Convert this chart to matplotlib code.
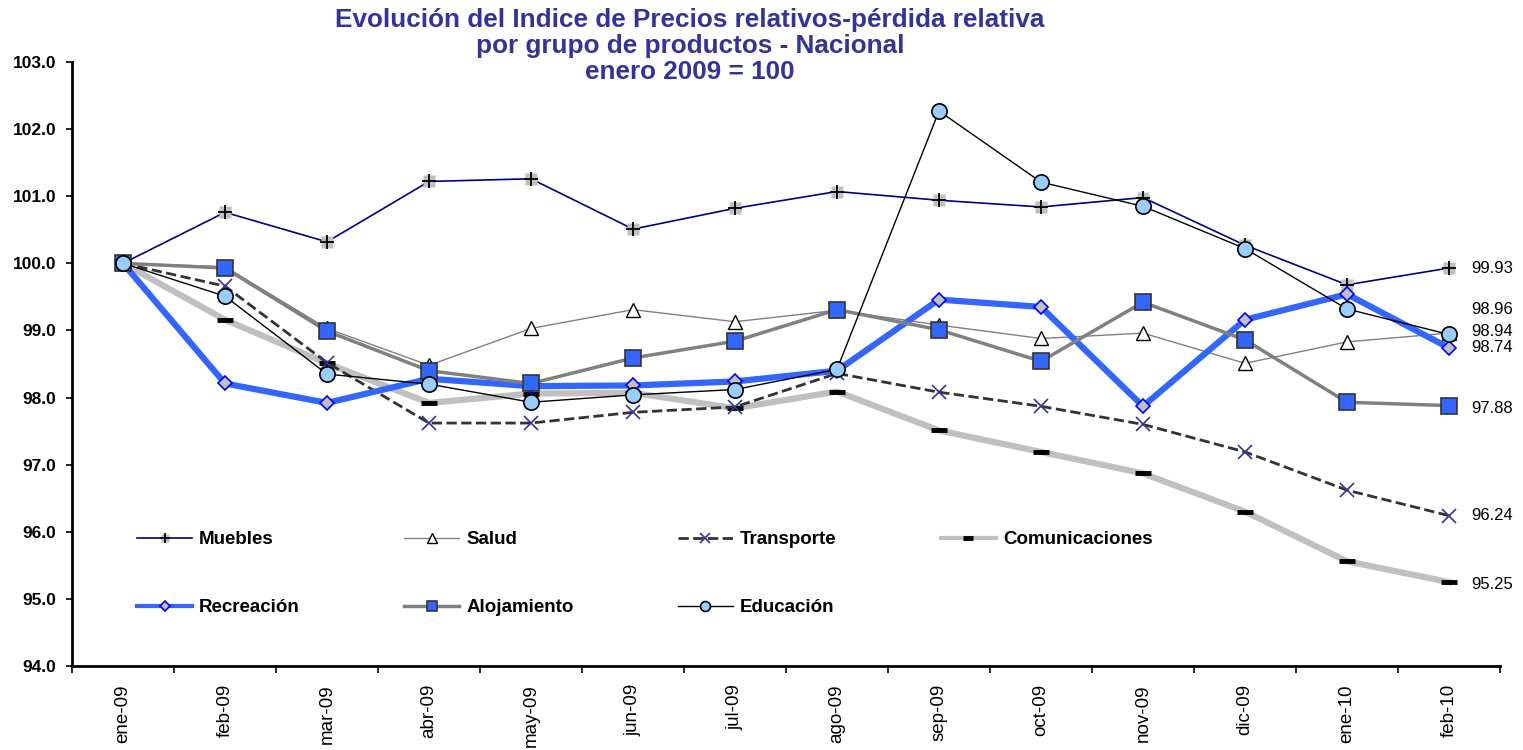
import matplotlib.pyplot as plt
from matplotlib.legend_handler import HandlerTuple

plt.rcParams['font.family'] = ['Liberation Sans', 'DejaVu Sans']

meses = ['ene-09', 'feb-09', 'mar-09', 'abr-09', 'may-09', 'jun-09', 'jul-09',
         'ago-09', 'sep-09', 'oct-09', 'nov-09', 'dic-09', 'ene-10', 'feb-10']

muebles = [100.00, 100.76, 100.32, 101.22, 101.26, 100.51, 100.82,
           101.07, 100.94, 100.84, 100.98, 100.27, 99.68, 99.93]
salud = [100.00, 99.95, 99.03, 98.48, 99.03, 99.31, 99.13,
         99.30, 99.08, 98.88, 98.96, 98.51, 98.83, 98.96]
transporte = [100.00, 99.66, 98.52, 97.62, 97.62, 97.78, 97.86,
              98.36, 98.08, 97.87, 97.60, 97.19, 96.62, 96.24]
comunicaciones = [100.00, 99.16, 98.51, 97.92, 98.06, 98.07, 97.84,
                  98.09, 97.51, 97.19, 96.87, 96.30, 95.56, 95.25]
recreacion = [100.00, 98.21, 97.92, 98.28, 98.17, 98.18, 98.24,
              98.40, 99.46, 99.35, 97.87, 99.16, 99.54, 98.74]
alojamiento = [100.00, 99.93, 98.99, 98.40, 98.21, 98.59, 98.84,
               99.31, 99.01, 98.54, 99.42, 98.86, 97.93, 97.88]
educacion = [100.00, 99.51, 98.35, 98.20, 97.93, 98.04, 98.12,
             98.42, 102.27, 101.21, 100.85, 100.22, 99.32, 98.94]

x = list(range(len(meses)))

fig = plt.figure(figsize=(15.23, 7.5), dpi=100)
ax = fig.add_axes([72 / 1523, 1 - 666 / 750, (1500 - 72) / 1523, (666 - 62) / 750])

# Muebles: gray square behind a black plus
m_sq, = ax.plot(x, muebles, color='#000080', lw=1.2, marker='s', ms=9,
                mfc='#C0C0C0', mec='none', zorder=3)
m_pl, = ax.plot(x, muebles, ls='none', marker='+', ms=10, mew=1.3,
                color='black', zorder=3.1)
sal, = ax.plot(x, salud, color='#808080', lw=1, marker='^', ms=10,
               mfc='white', mec='black', mew=1, zorder=3.2)
tra, = ax.plot(x, transporte, color='#333333', lw=2, ls='--', marker='x', ms=10,
               mec='#333399', mew=1.2, zorder=3.4)
com, = ax.plot(x, comunicaciones, color='#C0C0C0', lw=4.5, marker='_', ms=11,
               mec='black', mew=3.5, zorder=3.3)
rec, = ax.plot(x, recreacion, color='#3366FF', lw=4.5, marker='D', ms=7.5,
               mfc='#C0C0C0', mec='#0000FF', mew=1.2, zorder=3.5)
alo, = ax.plot(x, alojamiento, color='#808080', lw=2.5, marker='s', ms=11,
               mfc='#3366FF', mec='#333333', mew=1.2, zorder=3.6)
edu, = ax.plot(x, educacion, color='black', lw=1, marker='o', ms=11,
               mfc='#99CCFF', mec='black', mew=1.2, zorder=3.7)

# end labels
finales = [muebles, salud, educacion, recreacion, alojamiento, transporte, comunicaciones]
desplaz = [0, 17, 2, 0, -2, 0, -2]
for serie, dy in zip(finales, desplaz):
    ax.annotate(f'{serie[-1]:.2f}', (x[-1], serie[-1]), xytext=(16, dy),
                textcoords='offset points', ha='left', va='center', fontsize=12)

ax.set_xlim(-0.5, len(meses) - 0.5)
ax.set_ylim(94, 103)
ax.set_yticks(range(94, 104))
ax.set_yticklabels([f'{v:.1f}' for v in range(94, 104)], fontweight='bold', fontsize=12.5)
ax.set_xticks(x)
ax.set_xticklabels(meses, rotation=90, fontsize=13.5, va='top')
ax.set_xticks([i - 0.5 for i in range(len(meses) + 1)], minor=True)
ax.tick_params(axis='x', which='major', length=0, pad=13)
ax.tick_params(axis='x', which='minor', length=5, width=1.2, direction='out')
ax.tick_params(axis='y', length=4, width=1.2, direction='out', pad=7.5)
for s in ['top', 'right']:
    ax.spines[s].set_visible(False)
for s in ['left', 'bottom']:
    ax.spines[s].set_linewidth(2)

handles = [(m_sq, m_pl), rec, sal, alo, tra, edu, com]
labels = ['Muebles', 'Recreación', 'Salud', 'Alojamiento', 'Transporte', 'Educación', 'Comunicaciones']
leg = fig.legend(handles, labels, ncols=4, loc='upper left',
                 bbox_to_anchor=(137 / 1523, 1 - 531 / 750),
                 frameon=False, borderpad=0, borderaxespad=0, markerscale=0.65,
                 handlelength=2.95, handletextpad=0.37, columnspacing=5.55,
                 labelspacing=2.72, prop={'weight': 'bold', 'size': 13.5},
                 handler_map={tuple: HandlerTuple(ndivide=1)})
# thinner lines in the legend, as in the original
for h in leg.legend_handles:
    if h.get_linewidth() > 3:
        h.set_linewidth(3)

fig.text(690 / 1523, 1 - 8 / 750,
         'Evolución del Indice de Precios relativos-pérdida relativa\n'
         'por grupo de productos - Nacional\nenero 2009 = 100',
         ha='center', va='top', fontsize=18.8, fontweight='bold', color='#333399',
         linespacing=1.1)

fig.savefig('out.png', dpi=100)
